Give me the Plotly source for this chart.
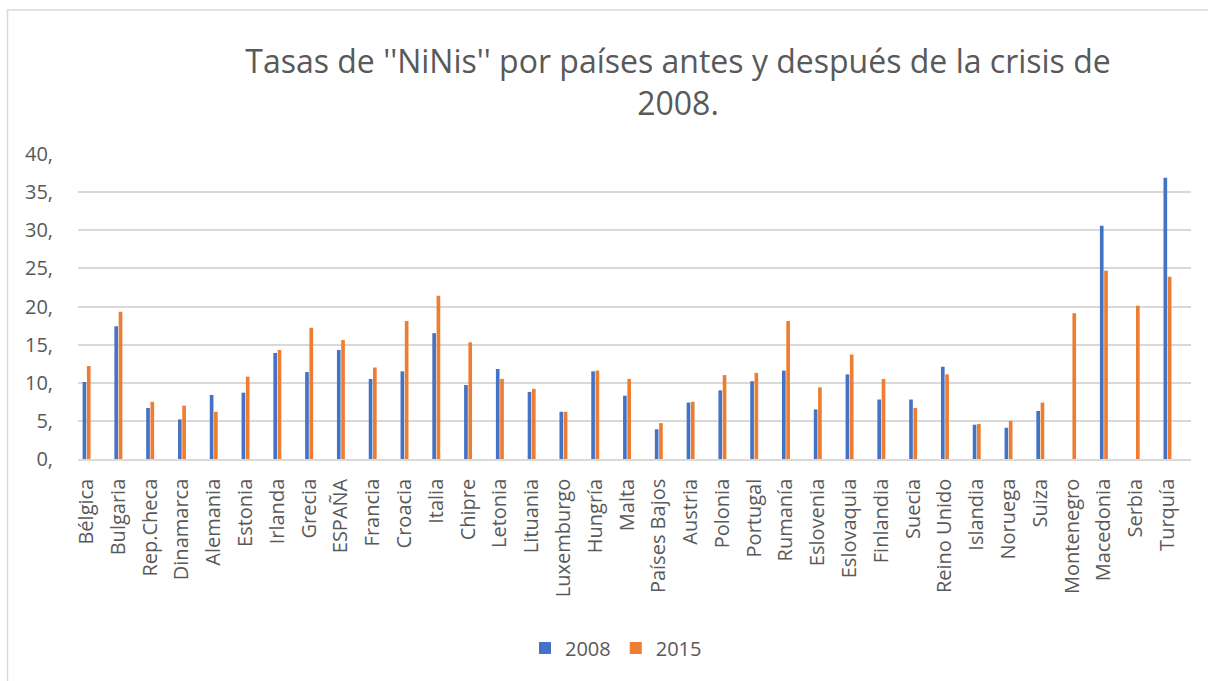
import plotly.graph_objects as go

countries = ["Bélgica", "Bulgaria", "Rep.Checa", "Dinamarca", "Alemania", "Estonia", "Irlanda",
             "Grecia", "ESPAÑA", "Francia", "Croacia", "Italia", "Chipre", "Letonia", "Lituania",
             "Luxemburgo", "Hungría", "Malta", "Países Bajos", "Austria", "Polonia", "Portugal",
             "Rumanía", "Eslovenia", "Eslovaquia", "Finlandia", "Suecia", "Reino Unido", "Islandia",
             "Noruega", "Suiza", "Montenegro", "Macedonia", "Serbia", "Turquía"]

vals_2008 = [10.1, 17.4, 6.7, 5.2, 8.4, 8.7, 13.9, 11.4, 14.3, 10.5, 11.5, 16.5, 9.7, 11.8, 8.8,
             6.2, 11.5, 8.3, 3.9, 7.4, 9.0, 10.2, 11.6, 6.5, 11.1, 7.8, 7.8, 12.1, 4.5,
             4.1, 6.3, None, 30.6, None, 36.9]

vals_2015 = [12.2, 19.3, 7.5, 7.0, 6.2, 10.8, 14.3, 17.2, 15.6, 12.0, 18.1, 21.4, 15.3, 10.5, 9.2,
             6.2, 11.6, 10.5, 4.7, 7.5, 11.0, 11.3, 18.1, 9.4, 13.7, 10.5, 6.7, 11.1, 4.6,
             5.0, 7.4, 19.1, 24.7, 20.1, 23.9]

series_names = ["2008", "2015"]
y_tickvals = [0, 5, 10, 15, 20, 25, 30, 35, 40]
y_ticktext = ["0,", "5,", "10,", "15,", "20,", "25,", "30,", "35,", "40,"]

title_text = "Tasas de ''NiNis'' por países antes y después de la crisis de<br>2008."

BLUE = "#4472C4"
ORANGE = "#ED7D31"
GREY_TXT = "#595959"
GRID = "#D9D9D9"

fig = go.Figure()
fig.add_trace(go.Bar(x=countries, y=vals_2008, name=series_names[0],
                     marker=dict(color=BLUE, line=dict(width=0)),
                     width=0.115, offset=-0.125))
fig.add_trace(go.Bar(x=countries, y=vals_2015, name=series_names[1],
                     marker=dict(color=ORANGE, line=dict(width=0)),
                     width=0.115, offset=0.01))

W, H = 1208, 681
L, R, T, B = 78, 1191, 154, 459

def px_x(p):
    return (p - L) / (R - L)

def px_y(p):
    return (B - p) / (B - T)

fig.update_layout(
    width=W, height=H,
    margin=dict(l=L, r=W - R, t=T, b=H - B),
    paper_bgcolor="white", plot_bgcolor="white",
    font=dict(family="Open Sans", color=GREY_TXT),
    title=dict(text=title_text, x=678 / W, xref="container", xanchor="center",
               y=1 - 73 / H, yref="container", yanchor="top",
               font=dict(family="Open Sans", size=32, color=GREY_TXT)),
    barmode="group",
    showlegend=True,
    legend=dict(orientation="h", x=px_x(616), xanchor="center", y=px_y(648), yanchor="middle",
                font=dict(size=20, color=GREY_TXT), traceorder="normal"),
    xaxis=dict(type="category", range=[-0.27, 34.74], tickangle=-90,
               tickfont=dict(size=20, color=GREY_TXT), showgrid=False,
               showline=True, linecolor=GRID, linewidth=1.5, ticks="",
               ticklabelstandoff=10, fixedrange=True),
    yaxis=dict(range=[0, 40], tickvals=y_tickvals, ticktext=y_ticktext,
               tickfont=dict(size=20, color=GREY_TXT), showgrid=True, gridcolor=GRID,
               gridwidth=1.5, zeroline=False, showline=False, ticks="",
               ticklabelstandoff=24, fixedrange=True),
    shapes=[dict(type="rect", xref="paper", yref="paper",
                 x0=px_x(7.5), x1=px_x(1230), y0=px_y(700), y1=px_y(10),
                 line=dict(color=GRID, width=1.5), fillcolor="rgba(0,0,0,0)", layer="below")],
)

fig.write_html("out.html", config={"displayModeBar": False},
               post_script="document.body.style.margin='0';")
